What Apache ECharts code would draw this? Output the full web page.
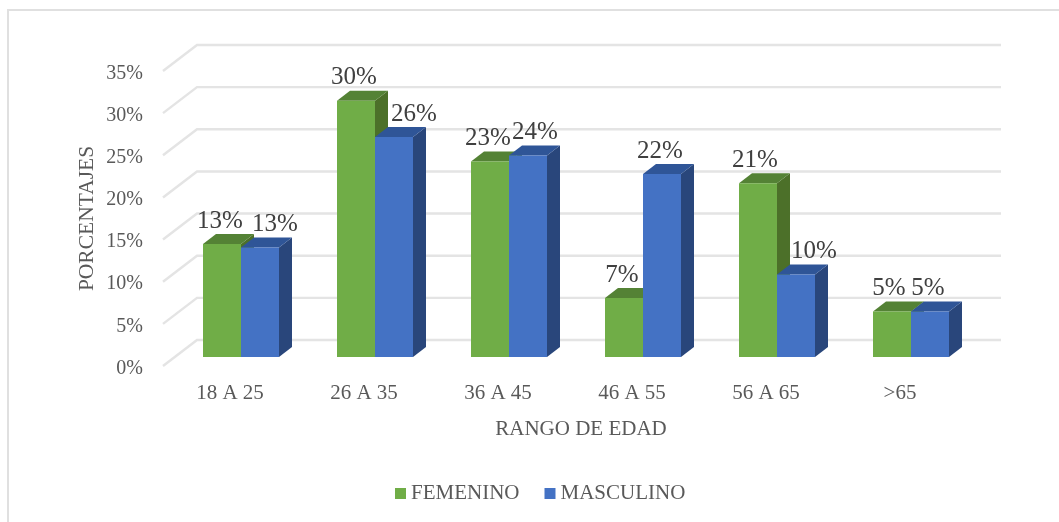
<!DOCTYPE html>
<html><head><meta charset="utf-8">
<style>html,body{margin:0;padding:0;background:#fff}#c{width:1059px;height:522px}</style>
<script src="https://cdn.jsdelivr.net/npm/echarts@6/dist/echarts.min.js"></script>
</head><body><div id="c"></div>
<script>
const categories = ['18 A 25','26 A 35','36 A 45','46 A 55','56 A 65','>65'];
const femenino = [13.4,30.4,23.2,7.0,20.6,5.4];
const masculino = [13.0,26.1,23.9,21.7,9.8,5.4];
const yTicks = [0,5,10,15,20,25,30,35];

const FONT = '"Liberation Serif","Times New Roman",serif';
// 3D projection of the plot (pixels)
const WALL = {dx:34, dy:-26};
const BAR = {inset:40, lift:9, width:38, dx:13, dy:-10};
// nudges of data labels that the original moved to avoid overlaps
const labelNudge = {femenino:[-2,-2,-2,-2,-3,-3], masculino:[15,20,7,-2,18,-2]};

const chart = echarts.init(document.getElementById('c'));

function wallItem(params, api){
  const v = api.value(0);
  const p = api.coord([0, v]);
  const x0 = params.coordSys.x, x1 = x0 + params.coordSys.width;
  const y = p[1];
  return {type:'polyline', silent:true, shape:{points:[[x0,y],[x0+WALL.dx,y+WALL.dy],[x1+WALL.dx,y+WALL.dy]]},
    style:{fill:'none',stroke:'#E4E4E4',lineWidth:2.4}};
}
function barRender(slot, face, top, side, nudge){
  return function(params, api){
    const i = api.value(0), v = api.value(1);
    const c0 = api.coord([i,0]), c1 = api.coord([i,v]);
    const cell = api.size([1,0])[0];
    const xl = c0[0]-cell/2 + BAR.inset + slot*BAR.width;
    const xr = xl + BAR.width;
    const yb = c0[1]-BAR.lift, yt = c1[1]-BAR.lift;
    const dx = BAR.dx, dy = BAR.dy;
    return {type:'group', children:[
      {type:'polygon',shape:{points:[[xr,yb],[xr+dx,yb+dy],[xr+dx,yt+dy],[xr,yt]]},style:{fill:side}},
      {type:'polygon',shape:{points:[[xl,yt],[xl+dx,yt+dy],[xr+dx,yt+dy],[xr,yt]]},style:{fill:top}},
      {type:'rect',shape:{x:xl,y:yt,width:BAR.width,height:yb-yt},style:{fill:face}},
      {type:'text',z2:50,style:{text:Math.round(v)+'%',x:(xl+xr)/2+nudge[i],y:yt-23,align:'center',verticalAlign:'middle',
        font:'25px '+FONT,fill:'#404040'}}
    ]};
  };
}
chart.setOption({
  animation:false,
  backgroundColor:'#fff',
  graphic:[{type:'polyline',silent:true,shape:{points:[[8,522],[8,10],[1059,10]]},style:{fill:'none',stroke:'#E0E0E0',lineWidth:2}}],
  grid:{left:163,top:71,width:804,height:295},
  legend:{left:390,top:478,itemWidth:11,itemHeight:11,itemGap:25,icon:'rect',
    data:[{name:'FEMENINO',itemStyle:{color:'#70AD47'}},{name:'MASCULINO',itemStyle:{color:'#4472C4'}}],
    textStyle:{fontFamily:FONT,fontSize:21,color:'#595959'}},
  xAxis:{type:'category',data:categories,axisTick:{show:false},axisLine:{show:false},
    axisLabel:{fontFamily:FONT,fontSize:21,color:'#595959',margin:17},
    name:'RANGO DE EDAD',nameLocation:'middle',nameGap:53,
    nameTextStyle:{fontFamily:FONT,fontSize:21,color:'#595959',padding:[0,0,0,32]}},
  yAxis:{type:'value',min:0,max:35,interval:5,axisLine:{show:false},axisTick:{show:false},splitLine:{show:false},
    axisLabel:{fontFamily:FONT,fontSize:20,color:'#595959',margin:20,verticalAlign:'top',lineHeight:5,formatter:'{value}%'},
    name:'PORCENTAJES',nameLocation:'middle',nameGap:65,nameMoveOverlap:false,
    nameTextStyle:{fontFamily:FONT,fontSize:21.5,color:'#595959'}},
  series:[
    {type:'custom',name:'wall',silent:true,z:1,data:yTicks.map(v=>[v]),encode:{y:0},renderItem:wallItem},
    {type:'custom',name:'FEMENINO',z:2,data:femenino.map((v,i)=>[i,v]),encode:{x:0,y:1},
      renderItem:barRender(0,'#70AD47','#548235','#4C7029',labelNudge.femenino)},
    {type:'custom',name:'MASCULINO',z:3,data:masculino.map((v,i)=>[i,v]),encode:{x:0,y:1},
      renderItem:barRender(1,'#4472C4','#2F5597','#29467B',labelNudge.masculino)}
  ]
});
</script></body></html>
